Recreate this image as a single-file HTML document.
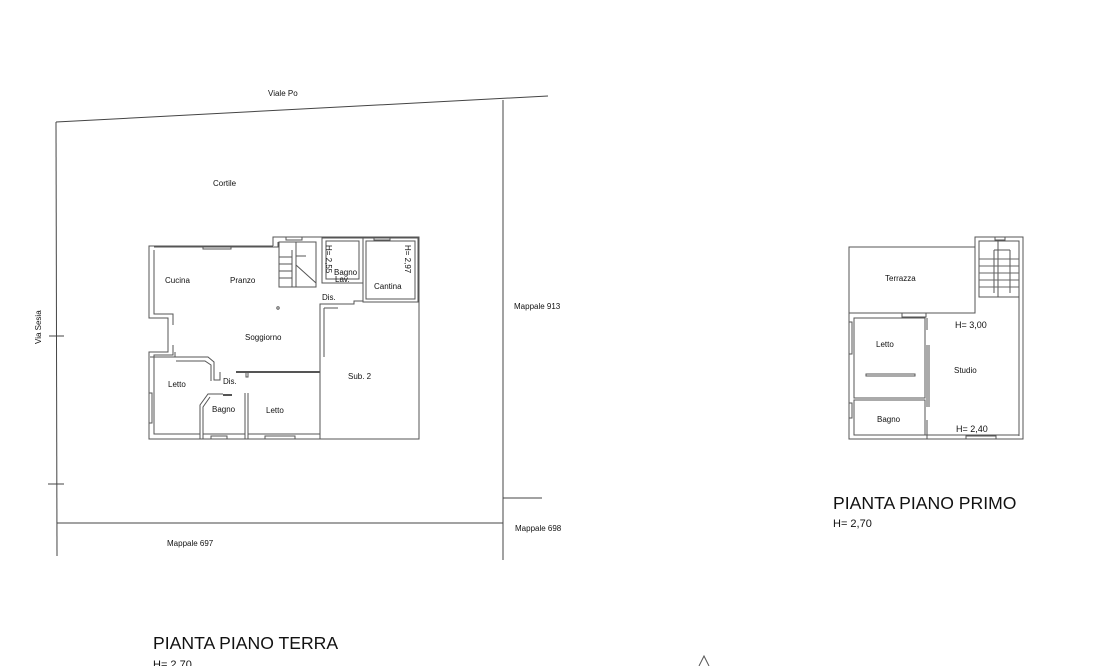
<!DOCTYPE html>
<html><head><meta charset="utf-8"><style>
html,body{margin:0;padding:0;background:#fff;width:1096px;height:666px;overflow:hidden}
svg{display:block}
text{font-family:"Liberation Sans",sans-serif;fill:#111}
</style></head><body>
<svg width="1096" height="666" viewBox="0 0 1096 666" xmlns="http://www.w3.org/2000/svg">
<g stroke="#444" stroke-width="1" fill="none">
<line x1="56" y1="122" x2="548" y2="96"/>
<line x1="56" y1="122" x2="57" y2="556"/>
<line x1="503" y1="100" x2="503" y2="560"/>
<line x1="57" y1="523" x2="503" y2="523"/>
<line x1="503" y1="498" x2="542" y2="498"/>
<line x1="49" y1="336" x2="64" y2="336"/>
<line x1="48" y1="484" x2="64" y2="484"/>
</g>
<g stroke="#555" stroke-width="1" fill="none">
<polyline points="273,246 149,246 149,318 168,318 168,352 149,352 149,439 419,439 419,237 273,237 273,246"/>
<polyline points="278,242 278,247 154,247"/>
<polyline points="154,250 154,314 173,314 173,325"/>
<polyline points="173,345 173,355 154,355 154,434 200,434"/>
<rect x="279" y="242" width="37" height="45"/>
<line x1="296" y1="242" x2="296" y2="287"/>
<line x1="292" y1="250" x2="292" y2="287"/>
<line x1="279" y1="257" x2="292" y2="257"/>
<line x1="279" y1="264" x2="292" y2="264"/>
<line x1="279" y1="271" x2="292" y2="271"/>
<line x1="279" y1="278" x2="292" y2="278"/>
<line x1="296" y1="256" x2="306" y2="256"/>
<line x1="296" y1="265" x2="316" y2="283"/>
<rect x="322" y="238" width="41" height="45"/>
<rect x="326" y="241" width="33" height="38"/>
<line x1="333" y1="237" x2="351" y2="237"/>
<rect x="363" y="238" width="55" height="64"/>
<rect x="366" y="241" width="49" height="58"/>
<polyline points="320,439 320,304 354,304 354,301 363,301"/>
<line x1="324" y1="308" x2="324" y2="357"/>
<line x1="324" y1="308" x2="338" y2="308"/>
<polyline points="150,357 175,357 175,352"/>
<polyline points="173,357 208,357 214,362 214,380 220,380 220,372"/>
<polyline points="176,361 205,361 211,365 211,381"/>
<line x1="236" y1="372" x2="320" y2="372" stroke-width="2"/>
<rect x="246" y="372" width="2" height="5"/>
<polyline points="154,358 154,434 200,434"/>
<polyline points="200,439 200,405 208,394 223,394"/>
<polyline points="203,439 203,407 210,397"/>
<line x1="223" y1="395" x2="232" y2="395" stroke-width="2"/>
<line x1="248" y1="393" x2="248" y2="439"/>
<line x1="245" y1="393" x2="245" y2="439"/>
<line x1="248" y1="434" x2="320" y2="434"/>
<line x1="203" y1="434" x2="245" y2="434"/>
<rect x="211" y="436" width="16" height="3"/>
<rect x="265" y="436" width="30" height="3"/>
<rect x="203" y="246" width="28" height="3"/>
<rect x="286" y="237" width="16" height="3"/>
<rect x="374" y="237" width="16" height="3"/>
<rect x="149" y="393" width="3" height="30"/>
<circle cx="278" cy="308" r="1.2"/>
</g>
<g stroke="#555" stroke-width="1" fill="none">
<rect x="849" y="247" width="126" height="66"/>
<polyline points="975,313 975,237 1023,237 1023,439 849,439 849,313"/>
<polyline points="979,297 979,241 1019,241 1019,436"/>
<rect x="979" y="241" width="40" height="56"/>
<line x1="998" y1="241" x2="998" y2="297"/>
<line x1="994" y1="250" x2="1010" y2="250"/>
<line x1="994" y1="250" x2="994" y2="293"/>
<line x1="1010" y1="250" x2="1010" y2="293"/>
<g stroke="#666">
<line x1="979" y1="259" x2="1019" y2="259"/><line x1="979" y1="266" x2="1019" y2="266"/>
<line x1="979" y1="273" x2="1019" y2="273"/><line x1="979" y1="280" x2="1019" y2="280"/>
<line x1="979" y1="287" x2="1019" y2="287"/>
</g>
<rect x="995" y="237" width="10" height="3"/>
<rect x="854" y="318" width="71" height="80"/>
<rect x="854" y="400" width="71" height="35"/>
<line x1="854" y1="435" x2="1019" y2="435"/>
<line x1="927" y1="345" x2="927" y2="407"/>
<line x1="929" y1="345" x2="929" y2="407"/>
<line x1="927" y1="420" x2="927" y2="439"/>
<line x1="927" y1="318" x2="927" y2="330"/>
<rect x="866" y="374" width="49" height="2"/>
<rect x="902" y="313" width="24" height="4"/>
<rect x="849" y="322" width="3" height="32"/>
<rect x="849" y="403" width="3" height="15"/>
<rect x="966" y="436" width="30" height="3"/>
<polyline points="699,666 704,656 709,666"/>
</g>
<g font-size="8">
<text x="268" y="96">Viale Po</text>
<text x="213" y="186">Cortile</text>
<text x="165" y="283">Cucina</text>
<text x="230" y="283">Pranzo</text>
<text x="334" y="275">Bagno</text>
<text x="335" y="282">Lav.</text>
<text x="374" y="289">Cantina</text>
<text x="322" y="300">Dis.</text>
<text x="245" y="340">Soggiorno</text>
<text x="348" y="379">Sub. 2</text>
<text x="168" y="387">Letto</text>
<text x="223" y="384">Dis.</text>
<text x="212" y="412">Bagno</text>
<text x="266" y="413">Letto</text>
<text x="514" y="309">Mappale 913</text>
<text x="515" y="531">Mappale 698</text>
<text x="167" y="546">Mappale 697</text>
<text x="885" y="281">Terrazza</text>
<text x="876" y="347">Letto</text>
<text x="954" y="373">Studio</text>
<text x="877" y="422">Bagno</text>
</g>
<g font-size="8">
<text transform="translate(41,344) rotate(-90)">Via Sesia</text>
<text transform="translate(326,245) rotate(90)">H= 2,55</text>
<text transform="translate(405,245) rotate(90)">H= 2,97</text>
</g>
<text x="955" y="328" font-size="9">H= 3,00</text>
<text x="956" y="432" font-size="9">H= 2,40</text>
<text x="833" y="509" font-size="17.6">PIANTA PIANO PRIMO</text>
<text x="833" y="527" font-size="11">H= 2,70</text>
<text x="153" y="649" font-size="17.6">PIANTA PIANO TERRA</text>
<text x="153" y="668" font-size="11">H= 2,70</text>
</svg>
</body></html>
